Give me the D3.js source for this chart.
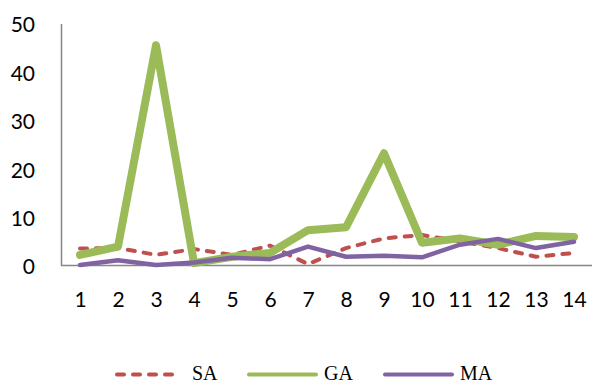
<!DOCTYPE html>
<html><head><meta charset="utf-8">
<script src="https://cdn.jsdelivr.net/npm/d3@7"></script>
<style>body{margin:0;background:#fff}svg{display:block}</style>
</head><body><svg id="c" width="592" height="385"></svg>
<script>
const categories = ["1","2","3","4","5","6","7","8","9","10","11","12","13","14"];
const SA = [3.5, 3.6, 2.2, 3.4, 2.2, 4.1, 0.3, 3.6, 5.6, 6.3, 5.0, 3.6, 1.8, 2.6];
const GA = [2.2, 3.9, 45.5, 0.5, 1.8, 2.6, 7.3, 7.9, 23.2, 4.7, 5.6, 4.3, 6.1, 5.9];
const MA = [0.1, 1.1, 0.1, 0.6, 1.6, 1.3, 3.9, 1.8, 2.0, 1.7, 4.3, 5.5, 3.6, 4.9];
const yTicks = [0, 10, 20, 30, 40, 50];
const seriesNames = ["SA", "GA", "MA"];

const series = [
  {name: seriesNames[0], values: SA, color: "#C0504D", width: 4, dash: "7,9"},
  {name: seriesNames[1], values: GA, color: "#9BBB59", width: 8, dash: null},
  {name: seriesNames[2], values: MA, color: "#8064A2", width: 4.5, dash: null}
];

const svg = d3.select("#c");
const mLeft = 61, mRight = 593, mTop = 23.5, mBottom = 265.5;
const x = d3.scalePoint().domain(categories).range([mLeft, mRight]).padding(0.5);
const y = d3.scaleLinear().domain([0, 50]).range([mBottom, mTop]);

// y axis
const ya = svg.append("g").attr("transform", `translate(${mLeft},0)`)
  .call(d3.axisLeft(y).tickValues(yTicks).tickSize(0).tickPadding(26));
ya.select(".domain").attr("stroke", "#868686").attr("stroke-width", 1.5);
ya.selectAll("text").attr("font-family", "Lato, 'Open Sans', sans-serif").attr("font-size", 21).attr("fill", "#000").attr("dy", "0.4em");

// x axis
const xa = svg.append("g").attr("transform", `translate(0,${mBottom})`)
  .call(d3.axisBottom(x).tickSize(0).tickPadding(27));
xa.select(".domain").attr("stroke", "#868686").attr("stroke-width", 1.5).attr("d", `M${mLeft},0H592`);
xa.selectAll("text").attr("font-family", "Lato, 'Open Sans', sans-serif").attr("font-size", 21).attr("fill", "#000");

const line = d3.line().x((d, i) => x(categories[i])).y(d => y(d));
svg.append("g").selectAll("path").data(series).join("path")
  .attr("d", d => line(d.values))
  .attr("fill", "none")
  .attr("stroke", d => d.color)
  .attr("stroke-width", d => d.width)
  .attr("stroke-linejoin", "round")
  .attr("stroke-linecap", "round")
  .attr("stroke-dasharray", d => d.dash);

// legend
const lg = [{x0: 117, x1: 180, tx: 192}, {x0: 249, x1: 316, tx: 324}, {x0: 385, x1: 452, tx: 460}];
const ly = 374.5;
const leg = svg.append("g");
series.forEach((s, i) => {
  leg.append("line").attr("x1", lg[i].x0).attr("x2", lg[i].x1).attr("y1", ly).attr("y2", ly)
    .attr("stroke", s.color).attr("stroke-width", 4).attr("stroke-linecap", "round")
    .attr("stroke-dasharray", s.dash ? "7,9" : null);
  leg.append("text").attr("x", lg[i].tx).attr("y", 380)
    .attr("font-family", "'Liberation Serif', 'Times New Roman', serif").attr("font-size", 20)
    .attr("fill", "#000").text(s.name);
});
</script></body></html>
